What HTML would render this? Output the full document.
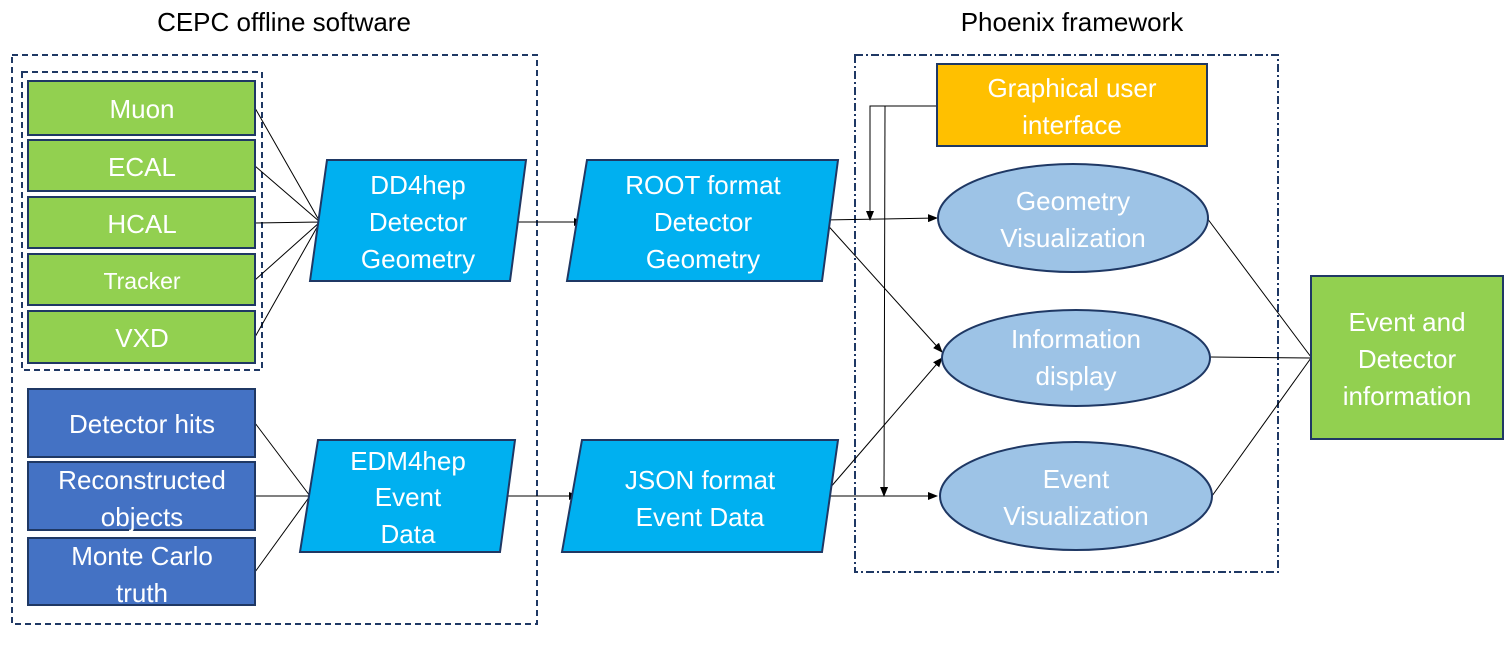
<!DOCTYPE html>
<html><head><style>body{margin:0;background:#fff}svg{display:block}text{font-family:"Liberation Sans",sans-serif}</style></head><body>
<svg width="1509" height="647" viewBox="0 0 1509 647" xmlns="http://www.w3.org/2000/svg">
<defs><marker id="a" markerWidth="10" markerHeight="8" refX="9" refY="4" orient="auto" markerUnits="userSpaceOnUse"><path d="M0,0L10,4L0,8z" fill="#000"/></marker></defs>
<text x="284" y="31" font-size="26" text-anchor="middle" fill="#000">CEPC offline software</text>
<text x="1072" y="31" font-size="26" text-anchor="middle" fill="#000">Phoenix framework</text>
<rect x="12" y="55" width="525" height="569" fill="none" stroke="#1f3864" stroke-width="2" stroke-dasharray="6,4"/>
<rect x="22" y="72" width="240" height="298" fill="none" stroke="#1f3864" stroke-width="2" stroke-dasharray="6,4"/>
<rect x="855" y="55" width="423" height="517" fill="none" stroke="#1f3864" stroke-width="2" stroke-dasharray="8,3,2,3"/>
<g stroke="#000" stroke-width="1" fill="none">
<path d="M255,108L320,222M255,166L320,222M255,223L320,222M255,280L320,222M255,337L320,222"/>
<path d="M255,423L310,496M255,496L310,496M255,572L310,496"/>
<path d="M510,222L583,222" marker-end="url(#a)"/>
<path d="M500,496L578,496" marker-end="url(#a)"/>
<path d="M823,220L937,218" marker-end="url(#a)"/>
<path d="M823,220L942,352" marker-end="url(#a)"/>
<path d="M823,496L942,358" marker-end="url(#a)"/>
<path d="M823,496L937,496" marker-end="url(#a)"/>
<path d="M937,106L870,106L870,220" marker-end="url(#a)"/>
<path d="M885,106L884,496" marker-end="url(#a)"/>
<path d="M1207,218L1311,357M1210,357L1311,358M1212,496L1311,358"/>
</g>
<g stroke="#1f3864" stroke-width="2" fill="#92d050">
<rect x="28" y="81" width="227" height="54"/><rect x="28" y="140" width="227" height="51"/><rect x="28" y="197" width="227" height="51"/><rect x="28" y="254" width="227" height="51"/><rect x="28" y="311" width="227" height="52"/>
<rect x="1311" y="276" width="192" height="163"/>
</g>
<g stroke="#1f3864" stroke-width="2" fill="#4472c4">
<rect x="28" y="389" width="227" height="68"/><rect x="28" y="462" width="227" height="68"/><rect x="28" y="538" width="227" height="67"/>
</g>
<g stroke="#1f3864" stroke-width="2" fill="#00b0f0">
<path d="M327,160L526,160L510,281L310,281z"/>
<path d="M587,160L838,160L822,281L567,281z"/>
<path d="M318,440L515,440L500,552L300,552z"/>
<path d="M582,440L838,440L822,552L562,552z"/>
</g>
<rect x="937" y="64" width="270" height="82" fill="#ffc000" stroke="#1f3864" stroke-width="2"/>
<g fill="#9dc3e6" stroke="#1f3864" stroke-width="2">
<ellipse cx="1073" cy="218" rx="135" ry="54"/><ellipse cx="1076" cy="358" rx="134" ry="48"/><ellipse cx="1076" cy="496" rx="136" ry="54"/>
</g>
<g fill="#fff" font-size="26" text-anchor="middle">
<text x="142" y="118">Muon</text><text x="142" y="176">ECAL</text><text x="142" y="233">HCAL</text><text x="142" y="289" font-size="23">Tracker</text><text x="142" y="347">VXD</text>
<text x="142" y="433">Detector hits</text><text x="142" y="489">Reconstructed</text><text x="142" y="526">objects</text><text x="142" y="565">Monte Carlo</text><text x="142" y="602">truth</text>
<text x="418" y="194">DD4hep</text><text x="418" y="231">Detector</text><text x="418" y="268">Geometry</text>
<text x="703" y="194">ROOT format</text><text x="703" y="231">Detector</text><text x="703" y="268">Geometry</text>
<text x="408" y="470">EDM4hep</text><text x="408" y="506">Event</text><text x="408" y="543">Data</text>
<text x="700" y="489">JSON format</text><text x="700" y="526">Event Data</text>
<text x="1072" y="97">Graphical user</text><text x="1072" y="134">interface</text>
<text x="1073" y="210">Geometry</text><text x="1073" y="247">Visualization</text>
<text x="1076" y="348">Information</text><text x="1076" y="385">display</text>
<text x="1076" y="488">Event</text><text x="1076" y="525">Visualization</text>
<text x="1407" y="331">Event and</text><text x="1407" y="368">Detector</text><text x="1407" y="405">information</text>
</g>
</svg>
</body></html>
